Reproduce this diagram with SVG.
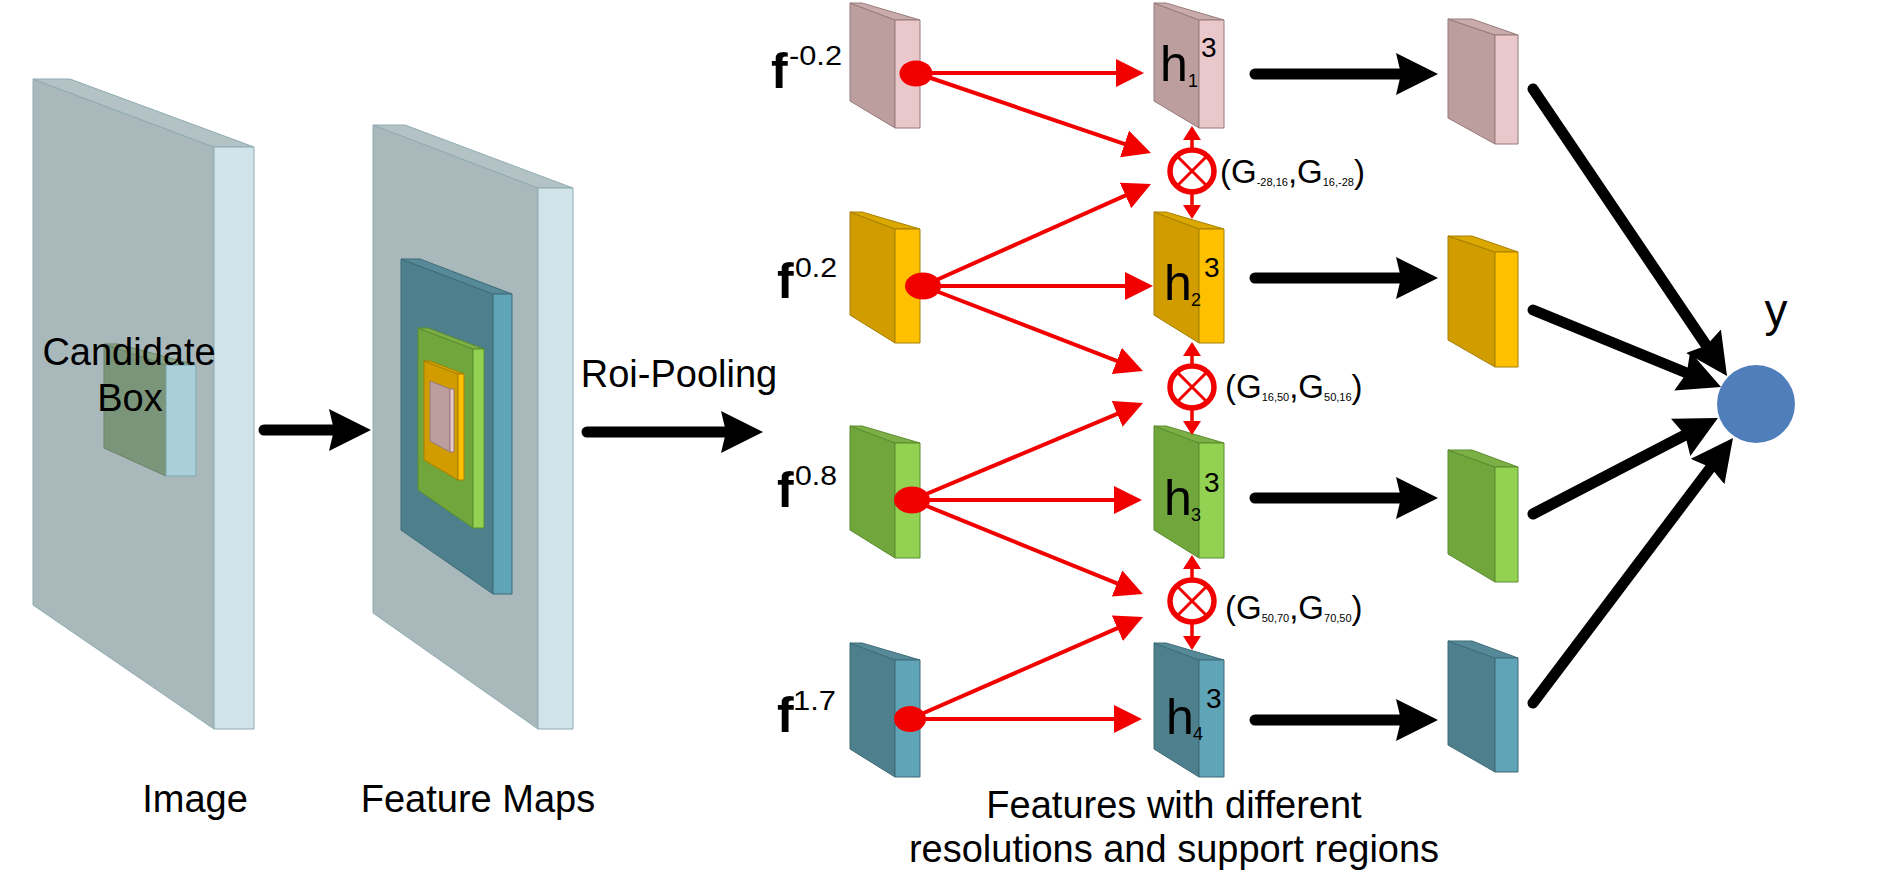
<svg xmlns="http://www.w3.org/2000/svg" width="1884" height="886" viewBox="0 0 1884 886">
<defs>
<style>
text{font-family:"Liberation Sans",Arial,sans-serif;fill:#000}
.lbl{font-size:38px}
.edge{stroke-width:1;stroke-linejoin:round}
.slab .f{fill:#a8b8bb;stroke:#90abb2}
.slab .s{fill:#cfe3e9;stroke:#90abb2}
.slab .t{fill:#b2c2c5;stroke:#90abb2}
.pink .f{fill:#bc9e9e;stroke:#977a7a}
.pink .s{fill:#e9c7ca;stroke:#977a7a}
.pink .t{fill:#c9abab;stroke:#977a7a}
.orange .f{fill:#d09c00;stroke:#a67f00}
.orange .s{fill:#ffc000;stroke:#a67f00}
.orange .t{fill:#dba800;stroke:#a67f00}
.green .f{fill:#70a63c;stroke:#5b8c2f}
.green .s{fill:#93d152;stroke:#5b8c2f}
.green .t{fill:#7cb046;stroke:#5b8c2f}
.teal .f{fill:#4d7f8d;stroke:#3f6b78}
.teal .s{fill:#60a4b8;stroke:#3f6b78}
.teal .t{fill:#578a99;stroke:#3f6b78}
.cand .f{fill:#7b957a;stroke:#6a8569}
.cand .s{fill:#a9cfd9;stroke:#7fa7b2}
.cand .t{fill:#8aa488;stroke:#6a8569}
.blk{stroke:#000;stroke-width:11;stroke-linecap:round;fill:none}
.red{stroke:#f20000;stroke-width:4;fill:none}
.redv{stroke:#f20000;stroke-width:3.5;fill:none}
.flab{font-size:50px;font-weight:bold}
.sup{font-size:27px}
.hh{font-size:50px}
.hsub{font-size:18px}
.hsup{font-size:28px}
.g{font-size:33px}
.gs{font-size:11px}
</style>
<marker id="ab" markerUnits="userSpaceOnUse" markerWidth="46" markerHeight="46" refX="5" refY="21" orient="auto">
<path d="M0,0 L42,21 L0,42 L5,21 Z" fill="#000"/>
</marker>
<marker id="ar" markerUnits="userSpaceOnUse" markerWidth="30" markerHeight="30" refX="2" refY="14" orient="auto">
<path d="M0,0 L28,14 L0,28 Z" fill="#f20000"/>
</marker>
<marker id="av" markerUnits="userSpaceOnUse" markerWidth="16" markerHeight="20" refX="1" refY="9" orient="auto-start-reverse">
<path d="M0,0 L14,9 L0,18 Z" fill="#f20000"/>
</marker>
</defs>
<rect width="1884" height="886" fill="#fff"/>

<g id="image-slab" class="slab edge">
<polygon class="f" points="33,79 214,147 214,729 33,605"/>
<polygon class="t" points="33,79 70,79 254,147 214,147"/>
<polygon class="s" points="214,147 254,147 254,729 214,729"/>
</g>
<g id="candidate-box" class="cand edge">
<polygon class="f" points="104,344 166,365 166,476 104,448"/>
<polygon class="t" points="104,344 118,344 196,365 166,365"/>
<polygon class="s" points="166,365 196,365 196,476 166,476"/>
<text class="lbl" x="129" y="365" text-anchor="middle" stroke="none">Candidate</text>
<text class="lbl" x="130" y="411" text-anchor="middle" stroke="none">Box</text>
</g>

<g id="feature-maps" class="edge">
<g class="slab">
<polygon class="f" points="373,125 538,188 538,729 373,613"/>
<polygon class="t" points="373,125 405,125 573,188 538,188"/>
<polygon class="s" points="538,188 573,188 573,729 538,729"/>
</g>
<g class="teal">
<polygon class="f" points="401,259 493,294 493,594 401,530"/>
<polygon class="t" points="401,259 420,259 512,294 493,294"/>
<polygon class="s" points="493,294 512,294 512,594 493,594"/>
</g>
<g class="green">
<polygon class="f" points="418,328 473,349 473,528 418,490"/>
<polygon class="t" points="418,328 428,328 484,349 473,349"/>
<polygon class="s" points="473,349 484,349 484,528 473,528"/>
</g>
<g class="orange">
<polygon class="f" points="424,361 458,374 458,480 424,460"/>
<polygon class="t" points="424,361 430,361 464,374 458,374"/>
<polygon class="s" points="458,374 464,374 464,480 458,480"/>
</g>
<g class="pink">
<polygon class="f" points="430,381 450,389 450,452 430,441"/>
<polygon class="s" points="450,389 454,389 454,452 450,452"/>
</g>
</g>

<text class="lbl" x="195" y="812" text-anchor="middle">Image</text>
<text class="lbl" x="478" y="812" text-anchor="middle">Feature Maps</text>
<text class="lbl" x="679" y="387" text-anchor="middle">Roi-Pooling</text>
<text class="lbl" x="1174" y="818" text-anchor="middle">Features with different</text>
<text class="lbl" x="1174" y="862" text-anchor="middle">resolutions and support regions</text>

<g id="f1" class="pink edge">
<polygon class="f" points="850,3 895,20 895,128 850,101"/>
<polygon class="t" points="850,3 862,3 920,20 895,20"/>
<polygon class="s" points="895,20 920,20 920,128 895,128"/>
</g>
<g id="f2" class="orange edge">
<polygon class="f" points="850,212 895,229 895,343 850,315"/>
<polygon class="t" points="850,212 862,212 920,229 895,229"/>
<polygon class="s" points="895,229 920,229 920,343 895,343"/>
</g>
<g id="f3" class="green edge">
<polygon class="f" points="850,426 895,443 895,558 850,530"/>
<polygon class="t" points="850,426 862,426 920,443 895,443"/>
<polygon class="s" points="895,443 920,443 920,558 895,558"/>
</g>
<g id="f4" class="teal edge">
<polygon class="f" points="850,643 895,660 895,777 850,749"/>
<polygon class="t" points="850,643 862,643 920,660 895,660"/>
<polygon class="s" points="895,660 920,660 920,777 895,777"/>
</g>

<g id="h1" class="pink edge">
<polygon class="f" points="1154,3 1199,20 1199,128 1154,101"/>
<polygon class="t" points="1154,3 1166,3 1224,20 1199,20"/>
<polygon class="s" points="1199,20 1224,20 1224,128 1199,128"/>
</g>
<g id="h2" class="orange edge">
<polygon class="f" points="1154,212 1199,229 1199,343 1154,315"/>
<polygon class="t" points="1154,212 1166,212 1224,229 1199,229"/>
<polygon class="s" points="1199,229 1224,229 1224,343 1199,343"/>
</g>
<g id="h3" class="green edge">
<polygon class="f" points="1154,426 1199,443 1199,558 1154,530"/>
<polygon class="t" points="1154,426 1166,426 1224,443 1199,443"/>
<polygon class="s" points="1199,443 1224,443 1224,558 1199,558"/>
</g>
<g id="h4" class="teal edge">
<polygon class="f" points="1154,643 1199,660 1199,777 1154,749"/>
<polygon class="t" points="1154,643 1166,643 1224,660 1199,660"/>
<polygon class="s" points="1199,660 1224,660 1224,777 1199,777"/>
</g>

<g id="o1" class="pink edge">
<polygon class="f" points="1448,19 1495,35 1495,144 1448,118"/>
<polygon class="t" points="1448,19 1472,19 1518,35 1495,35"/>
<polygon class="s" points="1495,35 1518,35 1518,144 1495,144"/>
</g>
<g id="o2" class="orange edge">
<polygon class="f" points="1448,236 1495,252 1495,367 1448,340"/>
<polygon class="t" points="1448,236 1472,236 1518,252 1495,252"/>
<polygon class="s" points="1495,252 1518,252 1518,367 1495,367"/>
</g>
<g id="o3" class="green edge">
<polygon class="f" points="1448,450 1495,467 1495,582 1448,554"/>
<polygon class="t" points="1448,450 1472,450 1518,467 1495,467"/>
<polygon class="s" points="1495,467 1518,467 1518,582 1495,582"/>
</g>
<g id="o4" class="teal edge">
<polygon class="f" points="1448,641 1495,658 1495,772 1448,745"/>
<polygon class="t" points="1448,641 1472,641 1518,658 1495,658"/>
<polygon class="s" points="1495,658 1518,658 1518,772 1495,772"/>
</g>

<g id="connectors">
<line class="blk" x1="264" y1="430" x2="334" y2="430" marker-end="url(#ab)"/>
<line class="blk" x1="587" y1="432" x2="726" y2="432" stroke-width="12" marker-end="url(#ab)"/>
<line class="blk" x1="1255" y1="74" x2="1401" y2="74" marker-end="url(#ab)"/>
<line class="blk" x1="1255" y1="278" x2="1401" y2="278" marker-end="url(#ab)"/>
<line class="blk" x1="1255" y1="498" x2="1401" y2="498" marker-end="url(#ab)"/>
<line class="blk" x1="1255" y1="720" x2="1401" y2="720" marker-end="url(#ab)"/>
<line class="blk" x1="1533" y1="89" x2="1706.3" y2="345.4" stroke-width="12" marker-end="url(#ab)"/>
<line class="blk" x1="1533" y1="310" x2="1686.8" y2="373" stroke-width="12" marker-end="url(#ab)"/>
<line class="blk" x1="1533" y1="514" x2="1685.1" y2="435" stroke-width="12" marker-end="url(#ab)"/>
<line class="blk" x1="1533" y1="703" x2="1710.7" y2="467.5" stroke-width="12" marker-end="url(#ab)"/>

<line class="red" x1="916" y1="73" x2="1118" y2="73" marker-end="url(#ar)"/>
<line class="red" x1="923" y1="286" x2="1127" y2="286" marker-end="url(#ar)"/>
<line class="red" x1="912" y1="500" x2="1116" y2="500" marker-end="url(#ar)"/>
<line class="red" x1="910" y1="719" x2="1116" y2="719" marker-end="url(#ar)"/>
<line class="red" x1="916" y1="73" x2="1126.4" y2="144.6" marker-end="url(#ar)"/>
<line class="red" x1="923" y1="286" x2="1127.3" y2="194.6" marker-end="url(#ar)"/>
<line class="red" x1="923" y1="286" x2="1118.7" y2="361.6" marker-end="url(#ar)"/>
<line class="red" x1="912" y1="500" x2="1119" y2="413.1" marker-end="url(#ar)"/>
<line class="red" x1="912" y1="500" x2="1118.9" y2="584.2" marker-end="url(#ar)"/>
<line class="red" x1="910" y1="719" x2="1119.2" y2="627.4" marker-end="url(#ar)"/>

<line class="redv" x1="1192" y1="139" x2="1192" y2="206" marker-start="url(#av)" marker-end="url(#av)"/>
<line class="redv" x1="1192" y1="355" x2="1192" y2="422" marker-start="url(#av)" marker-end="url(#av)"/>
<line class="redv" x1="1192" y1="568" x2="1192" y2="637" marker-start="url(#av)" marker-end="url(#av)"/>
</g>

<g id="dots" fill="#f20000">
<ellipse cx="916" cy="73.5" rx="16.5" ry="13"/>
<ellipse cx="923" cy="286" rx="18" ry="13.5"/>
<ellipse cx="912" cy="500" rx="18" ry="13.5"/>
<ellipse cx="910" cy="719" rx="16" ry="13"/>
</g>

<g id="gate1">
<ellipse cx="1192" cy="171" rx="22" ry="21" fill="#fff" stroke="#f20000" stroke-width="5.5"/>
<path d="M1177,156 L1207,186 M1207,156 L1177,186" stroke="#f20000" stroke-width="3"/>
</g>
<g id="gate2">
<ellipse cx="1192" cy="387" rx="22" ry="21" fill="#fff" stroke="#f20000" stroke-width="5.5"/>
<path d="M1177,372 L1207,402 M1207,372 L1177,402" stroke="#f20000" stroke-width="3"/>
</g>
<g id="gate3">
<ellipse cx="1192" cy="601" rx="22" ry="21" fill="#fff" stroke="#f20000" stroke-width="5.5"/>
<path d="M1177,586 L1207,616 M1207,586 L1177,616" stroke="#f20000" stroke-width="3"/>
</g>

<g id="y-node">
<circle cx="1756" cy="404" r="39" fill="#4f7ebb"/>
<text x="1776" y="326" font-size="46" text-anchor="middle">y</text>
</g>

<g id="labels">
<text x="771" y="88"><tspan class="flab">f</tspan><tspan class="sup" x="789" y="65" textLength="53" lengthAdjust="spacingAndGlyphs">-0.2</tspan></text>
<text x="777" y="298"><tspan class="flab">f</tspan><tspan class="sup" x="795" y="277" textLength="42" lengthAdjust="spacingAndGlyphs">0.2</tspan></text>
<text x="777" y="507"><tspan class="flab">f</tspan><tspan class="sup" x="795" y="485" textLength="42" lengthAdjust="spacingAndGlyphs">0.8</tspan></text>
<text x="777" y="732"><tspan class="flab">f</tspan><tspan class="sup" x="793" y="710" textLength="43" lengthAdjust="spacingAndGlyphs">1.7</tspan></text>

<text x="1160" y="81"><tspan class="hh">h</tspan><tspan class="hsub" x="1188" y="87">1</tspan><tspan class="hsup" x="1201" y="57">3</tspan></text>
<text x="1164" y="300"><tspan class="hh">h</tspan><tspan class="hsub" x="1191" y="306">2</tspan><tspan class="hsup" x="1204" y="277">3</tspan></text>
<text x="1164" y="515"><tspan class="hh">h</tspan><tspan class="hsub" x="1191" y="521">3</tspan><tspan class="hsup" x="1204" y="492">3</tspan></text>
<text x="1166" y="734"><tspan class="hh">h</tspan><tspan class="hsub" x="1193" y="740">4</tspan><tspan class="hsup" x="1206" y="708">3</tspan></text>

<text class="g" x="1220" y="183">(G<tspan class="gs" dy="3">-28,16</tspan><tspan dy="-3">,G</tspan><tspan class="gs" dy="3">16,-28</tspan><tspan dy="-3">)</tspan></text>
<text class="g" x="1225" y="398">(G<tspan class="gs" dy="3">16,50</tspan><tspan dy="-3">,G</tspan><tspan class="gs" dy="3">50,16</tspan><tspan dy="-3">)</tspan></text>
<text class="g" x="1225" y="619">(G<tspan class="gs" dy="3">50,70</tspan><tspan dy="-3">,G</tspan><tspan class="gs" dy="3">70,50</tspan><tspan dy="-3">)</tspan></text>
</g>
</svg>
